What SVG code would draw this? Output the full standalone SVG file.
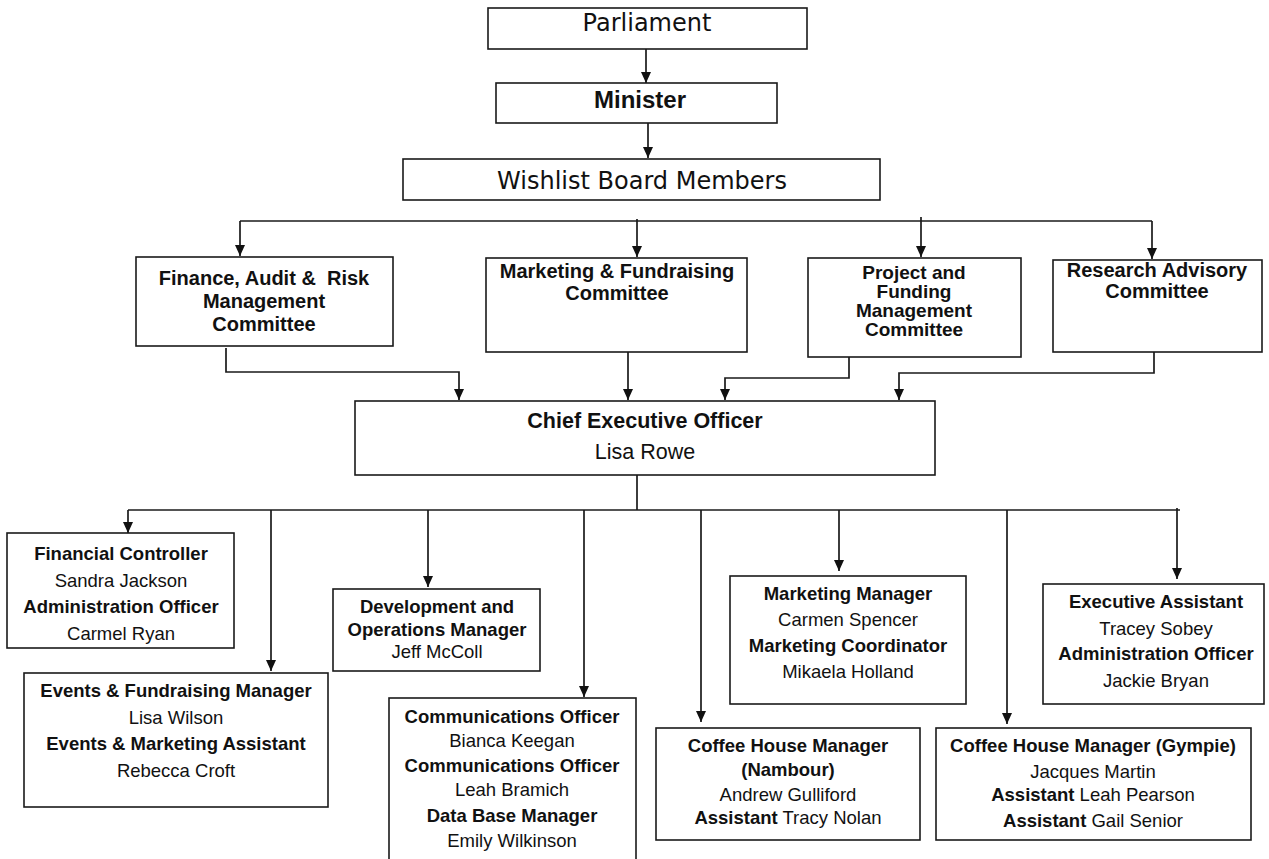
<svg xmlns="http://www.w3.org/2000/svg" width="1269" height="859" viewBox="0 0 1269 859">
<style>
  .box{fill:#fff;stroke:#1a1a1a;stroke-width:1.6}
  .ln{fill:none;stroke:#1a1a1a;stroke-width:1.7}
  .arr{fill:none;stroke:#1a1a1a;stroke-width:1.7;marker-end:url(#ah)}
  text{font-family:"Liberation Sans",Arial,sans-serif;fill:#111;text-anchor:middle}
  .wide{font-family:"DejaVu Sans","Liberation Sans",sans-serif;font-size:24px}
  .min{font-size:24px;font-weight:bold}
  .com{font-size:20px;font-weight:bold}
  .pc{font-size:19px;font-weight:bold}
  .ceo{font-size:21.5px}
  .t{font-size:18.5px}
  .b{font-weight:bold}
</style>
<defs>
  <marker id="ah" markerUnits="userSpaceOnUse" markerWidth="12" markerHeight="12" refX="11" refY="6" orient="auto">
    <path d="M0,1 L11,6 L0,11 z" fill="#111"/>
  </marker>
</defs>

<g id="connectors">
  <path class="arr" d="M646,49 V83"/>
  <path class="arr" d="M648,123 V158"/>
  <path class="ln" d="M240,221 H1152"/>
  <path class="arr" d="M240,221 V256"/>
  <path class="arr" d="M637,219 V257"/>
  <path class="arr" d="M921,217 V257"/>
  <path class="arr" d="M1152,221 V259"/>
  <path class="arr" d="M226,348 V372 H459 V400"/>
  <path class="arr" d="M628,343 V400"/>
  <path class="arr" d="M849,357 V378 H725 V400"/>
  <path class="arr" d="M1154,352 V373 H899 V400"/>
  <path class="ln" d="M637,475 V510"/>
  <path class="ln" d="M128,510 H1180"/>
  <path class="arr" d="M128,510 V533"/>
  <path class="arr" d="M271,510 V671"/>
  <path class="arr" d="M428,510 V587"/>
  <path class="arr" d="M584,510 V697"/>
  <path class="arr" d="M701,510 V722"/>
  <path class="arr" d="M839,510 V571"/>
  <path class="arr" d="M1007,510 V724"/>
  <path class="arr" d="M1177,508 V579"/>
</g>

<g id="parliament">
  <rect class="box" x="488" y="8" width="319" height="41"/>
  <text class="wide" x="647" y="31">Parliament</text>
</g>
<g id="minister">
  <rect class="box" x="496" y="83" width="281" height="40"/>
  <text class="min" x="640" y="108">Minister</text>
</g>
<g id="board">
  <rect class="box" x="403" y="159" width="477" height="41"/>
  <text class="wide" x="642" y="189">Wishlist Board Members</text>
</g>

<g id="finance-committee">
  <rect class="box" x="136" y="257" width="257" height="89"/>
  <text class="com" x="264" y="285" xml:space="preserve">Finance, Audit &amp;  Risk</text>
  <text class="com" x="264" y="308">Management</text>
  <text class="com" x="264" y="331">Committee</text>
</g>
<g id="marketing-committee">
  <rect class="box" x="486" y="258" width="261" height="94"/>
  <text class="com" x="617" y="278">Marketing &amp; Fundraising</text>
  <text class="com" x="617" y="300">Committee</text>
</g>
<g id="project-committee">
  <rect class="box" x="808" y="258" width="213" height="99"/>
  <text class="pc" x="914" y="279">Project and</text>
  <text class="pc" x="914" y="298">Funding</text>
  <text class="pc" x="914" y="317">Management</text>
  <text class="pc" x="914" y="336">Committee</text>
</g>
<g id="research-committee">
  <rect class="box" x="1053" y="260" width="209" height="92"/>
  <text class="com" x="1157" y="277">Research Advisory</text>
  <text class="com" x="1157" y="298">Committee</text>
</g>

<g id="ceo">
  <rect class="box" x="355" y="401" width="580" height="74"/>
  <text class="ceo b" x="645" y="428">Chief Executive Officer</text>
  <text class="ceo" x="645" y="459">Lisa Rowe</text>
</g>

<g id="financial-controller">
  <rect class="box" x="7" y="533" width="227" height="115"/>
  <text class="t b" x="121" y="560">Financial Controller</text>
  <text class="t" x="121" y="587">Sandra Jackson</text>
  <text class="t b" x="121" y="613">Administration Officer</text>
  <text class="t" x="121" y="640">Carmel Ryan</text>
</g>
<g id="events-manager">
  <rect class="box" x="24" y="673" width="304" height="134"/>
  <text class="t b" x="176" y="697">Events &amp; Fundraising Manager</text>
  <text class="t" x="176" y="724">Lisa Wilson</text>
  <text class="t b" x="176" y="750">Events &amp; Marketing Assistant</text>
  <text class="t" x="176" y="777">Rebecca Croft</text>
</g>
<g id="development-manager">
  <rect class="box" x="333" y="589" width="207" height="82"/>
  <text class="t b" x="437" y="613">Development and</text>
  <text class="t b" x="437" y="636">Operations Manager</text>
  <text class="t" x="437" y="658">Jeff McColl</text>
</g>
<g id="communications">
  <rect class="box" x="389" y="698" width="247" height="162"/>
  <text class="t b" x="512" y="723">Communications Officer</text>
  <text class="t" x="512" y="747">Bianca Keegan</text>
  <text class="t b" x="512" y="772">Communications Officer</text>
  <text class="t" x="512" y="796">Leah Bramich</text>
  <text class="t b" x="512" y="822">Data Base Manager</text>
  <text class="t" x="512" y="847">Emily Wilkinson</text>
</g>
<g id="coffee-nambour">
  <rect class="box" x="656" y="728" width="264" height="112"/>
  <text class="t b" x="788" y="752">Coffee House Manager</text>
  <text class="t b" x="788" y="776">(Nambour)</text>
  <text class="t" x="788" y="801">Andrew Gulliford</text>
  <text class="t" x="788" y="824"><tspan class="b">Assistant</tspan> Tracy Nolan</text>
</g>
<g id="marketing-manager">
  <rect class="box" x="730" y="576" width="236" height="128"/>
  <text class="t b" x="848" y="600">Marketing Manager</text>
  <text class="t" x="848" y="626">Carmen Spencer</text>
  <text class="t b" x="848" y="652">Marketing Coordinator</text>
  <text class="t" x="848" y="678">Mikaela Holland</text>
</g>
<g id="coffee-gympie">
  <rect class="box" x="936" y="728" width="315" height="112"/>
  <text class="t b" x="1093" y="752">Coffee House Manager (Gympie)</text>
  <text class="t" x="1093" y="778">Jacques Martin</text>
  <text class="t" x="1093" y="801"><tspan class="b">Assistant</tspan> Leah Pearson</text>
  <text class="t" x="1093" y="827"><tspan class="b">Assistant</tspan> Gail Senior</text>
</g>
<g id="executive-assistant">
  <rect class="box" x="1043" y="584" width="221" height="120"/>
  <text class="t b" x="1156" y="608">Executive Assistant</text>
  <text class="t" x="1156" y="635">Tracey Sobey</text>
  <text class="t b" x="1156" y="660">Administration Officer</text>
  <text class="t" x="1156" y="687">Jackie Bryan</text>
</g>
</svg>
